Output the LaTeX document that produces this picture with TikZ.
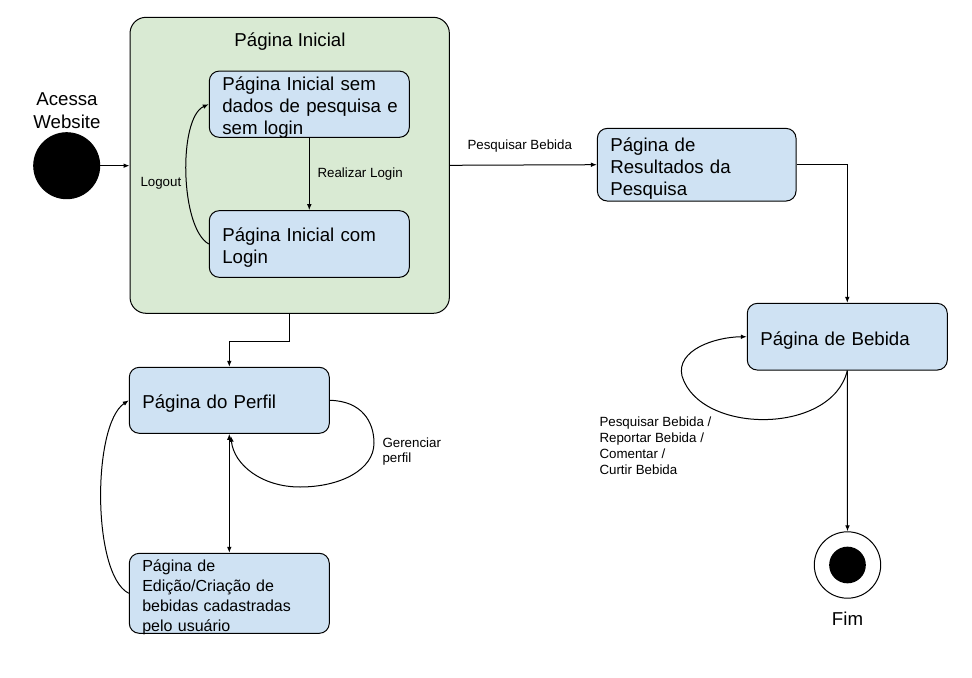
\documentclass[tikz,border=0pt]{standalone}
\usepackage{fontspec}
\setmainfont{Liberation Sans}
\usetikzlibrary{arrows.meta,calc}
\definecolor{grn}{HTML}{D9EAD3}
\definecolor{blu}{HTML}{CFE2F3}
\newcommand{\bxt}[1]{\hspace*{9.75pt}\raisebox{-3pt}[\height][\depth]{\begin{tabular}{@{}l@{}}#1\end{tabular}}}
\begin{document}
\begin{tikzpicture}[x=0.75pt,y=-0.75pt,
  line width=0.75pt,
  arr/.style={-{Latex[length=4.5pt,width=3.5pt]}},
  darr/.style={{Latex[length=4.5pt,width=3.5pt]}-{Latex[length=4.5pt,width=3.5pt]}},
  state/.style={draw,fill=blu,rounded corners=7.5pt,align=left,text width=150pt,
    inner xsep=0pt,inner ysep=0pt,minimum width=150pt,
    font=\fontsize{14}{16.5}\selectfont},
  lbl/.style={font=\fontsize{10}{12}\selectfont,align=left,inner sep=0pt},
  big/.style={font=\fontsize{14}{17}\selectfont,align=center,inner sep=0pt}]
\useasboundingbox (0,0) rectangle (972,678);
% outer composite state
\node[draw,fill=grn,rounded corners=12pt,minimum width=239.5pt,minimum height=222pt,inner sep=0pt] (green) at (289.7,165.3) {};
\node[big] (title) at (290,41.5) {Página Inicial};
\node[state,minimum height=49.7pt] (b1) at (309.3,104.2) {\bxt{Página Inicial sem\\dados de pesquisa e\\sem login}};
\node[state,minimum height=50pt] (b2) at (309.3,244) {\bxt{Página Inicial com\\Login}};
% start
\node[circle,fill=black,draw,minimum size=49.5pt,inner sep=0pt] (start) at (66.7,165.7) {};
\node[big] (startlbl) at (67,111) {Acessa\\Website};
% other states
\node[state,minimum height=49.5pt] (perfil) at (229.3,400.3) {\bxt{Página do Perfil}};
\node[state,minimum height=60pt,font=\fontsize{12}{15}\selectfont] (edicao) at (229.3,593.3) {\bxt{Página de\\Edição/Criação de\\bebidas cadastradas\\pelo usuário}};
\node[state,minimum height=54.5pt,minimum width=149pt,text width=149pt] (res) at (696.7,164.7) {\bxt{Página de\\Resultados da\\Pesquisa}};
\node[state,minimum height=50pt] (bebida) at (847.3,336.7) {\bxt{Página de Bebida}};
% end
\node[circle,draw,fill=white,minimum size=49.8pt,inner sep=0pt] (fim) at (847.5,565) {};
\node[circle,fill=black,minimum size=27.5pt,inner sep=0pt] (fimin) at (fim) {};
\node[big] (fimlbl) at (847.5,619) {Fim};
% connectors
\draw[arr] (start.east) -- (start.east -| green.west);
\draw[arr] (b1.south) -- (b2.north);
\node[lbl,anchor=west] (rl) at (317,174) {Realizar Login};
\draw[arr] (b2.west) .. controls (180,228) and (178,118) .. (b1.west);
\node[lbl,anchor=west] (lo) at (140,183) {Logout};
\draw[arr] (green.east) -- (res.west);
\node[lbl,anchor=west] (pb) at (467,146) {Pesquisar Bebida};
\draw[arr] (res.east) -| (bebida.north);
\draw[arr] (bebida.south) .. controls (832,435) and (700,435) .. (682,376) .. controls (676,350) and (715,337) .. (bebida.west);
\node[lbl,anchor=west,font=\fontsize{10}{12}\selectfont] (bl) at (599,446) {Pesquisar Bebida /\\Reportar Bebida /\\Comentar /\\Curtir Bebida};
\draw[arr] (bebida.south) -- (fim.north);
\draw[arr] (green.south) -- ++(0,27.5) -| (perfil.north);
\draw[arr] (perfil.east) .. controls (362,401) and (374,422) .. (374,443) .. controls (374,470) and (340,487) .. (300,487) .. controls (262,487) and (234,465) .. ($(perfil.south)+(1.5,2)$);
\node[lbl,anchor=west,font=\fontsize{10}{11.25}\selectfont] (gp) at (382,452) {Gerenciar\\perfil};
\draw[darr] (perfil.south) -- (edicao.north);
\draw[arr] (edicao.west) .. controls (92,575) and (92,425) .. (perfil.west);
\end{tikzpicture}
\end{document}
